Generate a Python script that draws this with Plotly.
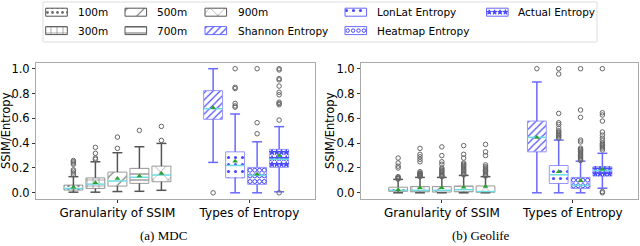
import plotly.graph_objects as go

# ---------------- data ----------------
ssim_labels = ["100m", "300m", "500m", "700m", "900m"]
entropy_labels = ["Shannon Entropy", "LonLat Entropy", "Heatmap Entropy", "Actual Entropy"]
box_labels = ssim_labels + entropy_labels
group_labels = ["Granularity of SSIM", "Types of Entropy"]
panel_titles = ["(a) MDC", "(b) Geolife"]
y_tick_values = [0.0, 0.2, 0.4, 0.6, 0.8, 1.0]
y_axis_title = "SSIM/Entropy"

# MDC (order: 100m, 300m, 500m, 700m, 900m, Shannon, LonLat, Heatmap, Actual)
mdc_lower = [0.005, 0.005, 0.010, 0.012, 0.020, 0.245, 0.000, 0.000, 0.008]
mdc_q1 = [0.022, 0.035, 0.054, 0.076, 0.089, 0.592, 0.120, 0.068, 0.205]
mdc_median = [0.035, 0.070, 0.095, 0.125, 0.143, 0.678, 0.220, 0.140, 0.270]
mdc_q3 = [0.062, 0.120, 0.167, 0.197, 0.215, 0.823, 0.330, 0.205, 0.350]
mdc_upper = [0.130, 0.250, 0.323, 0.371, 0.398, 1.000, 0.635, 0.411, 0.533]
mdc_mean = [0.045, 0.080, 0.115, 0.135, 0.155, 0.685, 0.255, 0.150, 0.300]
mdc_outliers = [
    [0.145, 0.160, 0.175, 0.185, 0.230, 0.240, 0.250, 0.260],
    [0.270, 0.280, 0.318, 0.366],
    [0.358, 0.449],
    [0.503],
    [0.422, 0.535],
    [0.000],
    [0.690, 0.700, 0.720, 0.840, 0.850, 1.000],
    [0.476, 0.565, 1.000],
    [0.000, 0.586, 0.710, 0.720, 0.730, 0.790, 0.810, 0.860, 0.910, 0.920, 0.990, 1.000],
]

# Geolife
geo_lower = [0.000, 0.000, 0.000, 0.000, 0.000, 0.000, 0.000, 0.000, 0.037]
geo_q1 = [0.012, 0.008, 0.006, 0.008, 0.004, 0.330, 0.075, 0.035, 0.135]
geo_median = [0.020, 0.020, 0.020, 0.025, 0.010, 0.447, 0.145, 0.060, 0.180]
geo_q3 = [0.045, 0.050, 0.050, 0.055, 0.055, 0.578, 0.220, 0.124, 0.210]
geo_upper = [0.108, 0.124, 0.124, 0.140, 0.130, 0.893, 0.425, 0.255, 0.318]
geo_mean = [0.025, 0.040, 0.040, 0.045, 0.050, 0.445, 0.170, 0.097, 0.190]
geo_outliers = [
    [0.110, 0.115, 0.120, 0.125, 0.130, 0.200, 0.215, 0.240, 0.280],
    [0.130, 0.135, 0.140, 0.145, 0.150, 0.155, 0.160, 0.170, 0.250, 0.270, 0.290, 0.310, 0.358],
    [0.130, 0.135, 0.140, 0.150, 0.160, 0.170, 0.180, 0.190, 0.200, 0.230, 0.250, 0.300, 0.370],
    [0.145, 0.150, 0.160, 0.170, 0.180, 0.190, 0.200, 0.210, 0.220, 0.230, 0.240, 0.280, 0.310, 0.380],
    [0.135, 0.140, 0.150, 0.160, 0.170, 0.180, 0.190, 0.200, 0.210, 0.225, 0.300, 0.330, 0.390],
    [1.000],
    [0.440, 0.450, 0.460, 0.470, 0.480, 0.490, 0.500, 0.520, 0.550, 0.565, 0.640, 0.957, 1.000],
    [0.260, 0.270, 0.280, 0.290, 0.300, 0.310, 0.320, 0.330, 0.340, 0.350, 0.360, 0.410, 0.425, 0.608, 0.667, 1.000],
    [0.000, 0.010, 0.345, 0.360, 0.370, 0.380, 0.390, 0.400, 0.420, 0.440, 0.465, 0.490, 0.578, 0.627, 0.645, 1.000],
]

# ---------------- styles / layout ----------------
FIG_W, FIG_H = 640, 246
PLOT_TOP, PLOT_BOTTOM = 63, 199
PANEL_PX = [(36, 315), (361, 638)]
YTITLE_PX = [6, 330]
X_RANGE = [-0.70, 11.98]
Y_RANGE = [-0.05, 1.046]
BOX_W = 0.86
CAP_W = 0.45
FONT = "DejaVu Sans"

GRAY_EDGE = "#9a9a9a"
GRAY_WHISK = "#555555"
GRAY_HATCH = "#6e6e6e"
BLUE_EDGE = "rgb(150,150,255)"
BLUE_WHISK = "rgb(105,105,255)"
BLUE_HATCH = "rgb(70,70,255)"
MEDIAN_COLOR = "rgb(110,220,225)"
MEAN_COLOR = "#2ca02c"
FLIER_COLOR = "#666666"

gray = dict(edge=GRAY_EDGE, whisk=GRAY_WHISK, hatch=GRAY_HATCH)
blue = dict(edge=BLUE_EDGE, whisk=BLUE_WHISK, hatch=BLUE_HATCH)
box_styles = [
    dict(gray, shape=".", size=5, solidity=0.25),
    dict(gray, shape="+", size=6, solidity=0.18),
    dict(gray, shape="/", size=12, solidity=0.09),
    dict(gray, shape="-", size=6, solidity=0.17),
    dict(gray, shape="x", size=11, solidity=0.09),
    dict(blue, shape="/", size=5, solidity=0.22),
    dict(blue, shape=".", size=7, solidity=0.15),
    dict(blue, shape="", symbol="circle-open", msize=4, spx=5.0, spy=5.6),
    dict(blue, shape="", symbol="star", msize=4, spx=5.0, spy=6.0),
]

n_ssim = len(ssim_labels)
positions = [i + 1 for i in range(n_ssim)] + [n_ssim + 2.35 + j for j in range(len(entropy_labels))]
tick_positions = [sum(positions[:n_ssim]) / n_ssim, positions[n_ssim] + 1.65]

panels = [
    dict(lower=mdc_lower, q1=mdc_q1, median=mdc_median, q3=mdc_q3, upper=mdc_upper, mean=mdc_mean, out=mdc_outliers),
    dict(lower=geo_lower, q1=geo_q1, median=geo_median, q3=geo_q3, upper=geo_upper, mean=geo_mean, out=geo_outliers),
]


def grid_points(cx, width, y0, y1, px_x, px_y, spx, spy):
    n = max(1, round(width * px_x / spx))
    m = max(1, round(abs(y1 - y0) * px_y / spy))
    xs, ys = [], []
    for k in range(m):
        yy = y0 + (k + 0.5) * (y1 - y0) / m
        for i in range(n):
            xs.append(cx - width / 2 + (i + 0.5) * width / n)
            ys.append(yy)
    return xs, ys


fig = go.Figure()
px_y = (PLOT_BOTTOM - PLOT_TOP) / (Y_RANGE[1] - Y_RANGE[0])

for p, d in enumerate(panels):
    xa = "x" if p == 0 else "x2"
    ya = "y" if p == 0 else "y2"
    px_x = (PANEL_PX[p][1] - PANEL_PX[p][0]) / (X_RANGE[1] - X_RANGE[0])
    for i, st in enumerate(box_styles):
        pos = positions[i]
        q1, q3 = d["q1"][i], d["q3"][i]
        pattern = dict(shape=st["shape"])
        if st["shape"]:
            pattern.update(fgcolor=st["hatch"], bgcolor="white", size=st["size"], solidity=st["solidity"], fillmode="replace")
        fig.add_trace(go.Bar(
            x=[pos], base=[q1], y=[q3 - q1], width=[BOX_W], xaxis=xa, yaxis=ya,
            marker=dict(color="white", line=dict(color=st["edge"], width=1), pattern=pattern),
            hoverinfo="skip", name=box_labels[i]))
        if "symbol" in st:
            hx, hy = grid_points(pos, BOX_W, q1, q3, px_x, px_y, st["spx"], st["spy"])
            fig.add_trace(go.Scatter(
                x=hx, y=hy, mode="markers", xaxis=xa, yaxis=ya, hoverinfo="skip",
                marker=dict(symbol=st["symbol"], size=st["msize"], color=st["hatch"],
                            line=dict(color=st["hatch"], width=1))))
    for i, st in enumerate(box_styles):
        pos = positions[i]
        lo, q1, q3, hi = d["lower"][i], d["q1"][i], d["q3"][i], d["upper"][i]
        c = CAP_W / 2
        fig.add_trace(go.Scatter(
            x=[pos, pos, None, pos, pos, None, pos - c, pos + c, None, pos - c, pos + c],
            y=[q3, hi, None, q1, lo, None, hi, hi, None, lo, lo],
            mode="lines", line=dict(color=st["whisk"], width=1.5), xaxis=xa, yaxis=ya, hoverinfo="skip"))
        fig.add_trace(go.Scatter(
            x=[pos - BOX_W / 2, pos + BOX_W / 2], y=[d["median"][i]] * 2, mode="lines",
            line=dict(color=MEDIAN_COLOR, width=1.5), xaxis=xa, yaxis=ya, hoverinfo="skip"))
        fig.add_trace(go.Scatter(
            x=[pos] * len(d["out"][i]), y=d["out"][i], mode="markers", xaxis=xa, yaxis=ya, hoverinfo="skip",
            marker=dict(symbol="circle-open", size=4.5, color=FLIER_COLOR, line=dict(width=1, color=FLIER_COLOR))))
        fig.add_trace(go.Scatter(
            x=[pos], y=[d["mean"][i]], mode="markers", xaxis=xa, yaxis=ya, hoverinfo="skip",
            marker=dict(symbol="triangle-up", size=5, color=MEAN_COLOR)))

# ---------------- legend (drawn on a pixel-space overlay axis) ----------------
LEG_COLS_PATCH = [45.7, 125.0, 205.0, 345.0, 486.5]
LEG_COLS_TEXT = [75.5, 155.0, 235.5, 374.7, 515.5]
LEG_ROWS = [12.2, 30.6]
PATCH_W, PATCH_H = 21.6, 8.0
for i, st in enumerate(box_styles):
    col, row = divmod(i, 2)
    cx = LEG_COLS_PATCH[col] + PATCH_W / 2
    top = LEG_ROWS[row] - PATCH_H / 2
    pattern = dict(shape=st["shape"])
    if st["shape"]:
        pattern.update(fgcolor=st["hatch"], bgcolor="white", size=st["size"], solidity=st["solidity"], fillmode="replace")
    fig.add_trace(go.Bar(
        x=[cx], base=[top], y=[PATCH_H], width=[PATCH_W], xaxis="x3", yaxis="y3",
        marker=dict(color="white", line=dict(color=st["whisk"], width=1), pattern=pattern), hoverinfo="skip"))
    if "symbol" in st:
        hx, hy = grid_points(cx, PATCH_W, top, top + PATCH_H, 1, 1, st["spx"], st["spy"])
        fig.add_trace(go.Scatter(
            x=hx, y=hy, mode="markers", xaxis="x3", yaxis="y3", hoverinfo="skip",
            marker=dict(symbol=st["symbol"], size=st["msize"] - 0.5, color=st["hatch"],
                        line=dict(color=st["hatch"], width=1))))
    fig.add_annotation(x=LEG_COLS_TEXT[col], y=LEG_ROWS[row], xref="x3", yref="y3", text=box_labels[i],
                       showarrow=False, xanchor="left", yanchor="middle",
                       font=dict(family=FONT, size=10.5, color="black"))

fig.add_shape(type="rect", xref="x3", yref="y3", x0=43, x1=597, y0=2, y1=42,
              line=dict(color="#dddddd", width=1), layer="below")

# ---------------- axes ----------------
common_x = dict(range=X_RANGE, tickmode="array", tickvals=tick_positions, ticktext=group_labels,
                ticks="outside", ticklen=3, tickcolor="#333", showline=True, mirror=True,
                linecolor="#aaaaaa", linewidth=1, showgrid=False, zeroline=False, automargin=False,
                tickfont=dict(family=FONT, size=12, color="black"))
common_y = dict(range=Y_RANGE, domain=[1 - PLOT_BOTTOM / FIG_H, 1 - PLOT_TOP / FIG_H],
                tickmode="array", tickvals=y_tick_values, tickformat=".1f",
                ticks="outside", ticklen=3, tickcolor="#333", showline=True, mirror=True,
                linecolor="#aaaaaa", linewidth=1, showgrid=False, zeroline=False, automargin=False,
                tickfont=dict(family=FONT, size=11.5, color="black"))

fig.update_layout(
    width=FIG_W, height=FIG_H, margin=dict(l=0, r=0, t=0, b=0, autoexpand=False),
    paper_bgcolor="white", plot_bgcolor="rgba(0,0,0,0)", showlegend=False, barmode="overlay",
    font=dict(family=FONT, size=12, color="black"),
    xaxis=dict(common_x, domain=[PANEL_PX[0][0] / FIG_W, PANEL_PX[0][1] / FIG_W], anchor="y"),
    yaxis=dict(common_y, anchor="x"),
    xaxis2=dict(common_x, domain=[PANEL_PX[1][0] / FIG_W, PANEL_PX[1][1] / FIG_W], anchor="y2"),
    yaxis2=dict(common_y, anchor="x2"),
    xaxis3=dict(domain=[0, 1], range=[0, FIG_W], visible=False, anchor="y3", automargin=False),
    yaxis3=dict(domain=[1 - 44 / FIG_H, 1], range=[44, 0], visible=False, anchor="x3", automargin=False),
)

for p in range(len(panels)):
    fig.add_annotation(x=YTITLE_PX[p] / FIG_W, y=1 - (PLOT_TOP + PLOT_BOTTOM) / 2 / FIG_H,
                       xref="paper", yref="paper", text=y_axis_title, textangle=-90,
                       showarrow=False, xanchor="center", yanchor="middle",
                       font=dict(family=FONT, size=11.5, color="black"))

CAPTION_X = [163, 481]
for p, t in enumerate(panel_titles):
    fig.add_annotation(x=CAPTION_X[p] / FIG_W, y=1 - 235 / FIG_H, xref="paper", yref="paper", text=t,
                       showarrow=False, xanchor="center", yanchor="middle",
                       font=dict(family="Liberation Serif", size=13, color="black"))

fig.write_html("out.html", config={"displayModeBar": False},
               post_script="document.body.style.margin='0';document.body.style.overflow='hidden';")
